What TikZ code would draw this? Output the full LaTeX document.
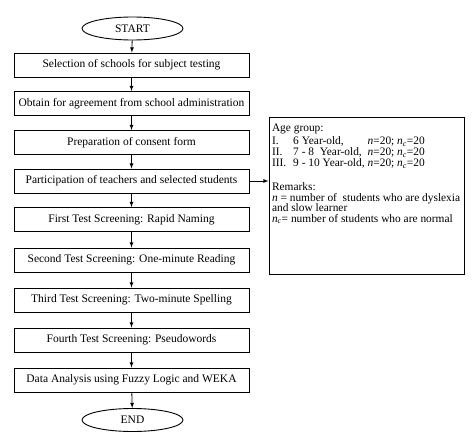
\documentclass[tikz,border=0pt]{standalone}
\usepackage{fontspec}
\setmainfont{Liberation Serif}
\usetikzlibrary{positioning,shapes,arrows}
\tikzstyle{term}=[ellipse, draw=black, line width=0.9pt, minimum width=101pt, minimum height=23pt, inner sep=0pt, font=\fontsize{11.5}{13}\selectfont]
\tikzstyle{proc}=[rectangle, draw=black, line width=0.9pt, minimum width=235pt, minimum height=24pt, inner sep=0pt, text centered, font=\fontsize{11.5}{13}\selectfont]
\tikzstyle{note}=[rectangle, draw=black, line width=0.9pt, inner xsep=3pt, inner ysep=4pt, align=left, font=\fontsize{11.4}{10.4}\selectfont]
\tikzstyle{flow}=[-latex, line width=0.8pt]
\newcommand{\nc}{\textit{n}\textsubscript{\textit{c}}}

\begin{document}
\begin{tikzpicture}[x=1pt,y=-1pt]
\useasboundingbox (0,0) rectangle (474,444);
\node[term] (start) at (132.5,28.5) {START};
\node[proc] (select) at (131.5,65) {Selection of schools for subject testing};
\node[proc] (agree) at (131.5,103.5) {Obtain for agreement from school administration};
\node[proc] (consent) at (131.5,142.5) {Preparation of consent form};
\node[proc] (particip) at (131.5,181) {Participation of teachers and selected students};
\node[proc] (test1) at (131.5,219.5) {First Test Screening: Rapid Naming};
\node[proc] (test2) at (131.5,260) {Second Test Screening: One-minute Reading};
\node[proc] (test3) at (131.5,300) {Third Test Screening: Two-minute Spelling};
\node[proc] (test4) at (131.5,340) {Fourth Test Screening: Pseudowords};
\node[proc] (analysis) at (131.5,380) {Data Analysis using Fuzzy Logic and WEKA};
\node[term] (stop) at (132.5,420) {END};
\node[note] (info) at (366.5,195.5) {\parbox[c][149pt][t]{189pt}{\vspace*{3pt}Age group:\\[2pt]
\begin{tabular}{@{}l@{\hspace{7pt}}l@{\hspace{3pt}}l@{}}
I. & 6 Year-old, & \textit{n}=20; \nc=20\\
II. & 7 - 8 \ Year-old, & \textit{n}=20; \nc=20\\
III. & 9 - 10 Year-old, & \textit{n}=20; \nc=20
\end{tabular}\\[12pt]
Remarks:\\
\textit{n} = number of \ students who are dyslexia\\
and slow learner\\
\nc= number of students who are normal}};
% main flow
\draw[flow] (start) -- (select);
\draw[flow] (select) -- (agree);
\draw[flow] (agree) -- (consent);
\draw[flow] (consent) -- (particip);
\draw[flow] (particip) -- (test1);
\draw[flow] (test1) -- (test2);
\draw[flow] (test2) -- (test3);
\draw[flow] (test3) -- (test4);
\draw[flow] (test4) -- (analysis);
\draw[flow] (analysis) -- (stop);
\draw[flow] (particip.east) -- (particip.east -| info.west);
\end{tikzpicture}
\end{document}
